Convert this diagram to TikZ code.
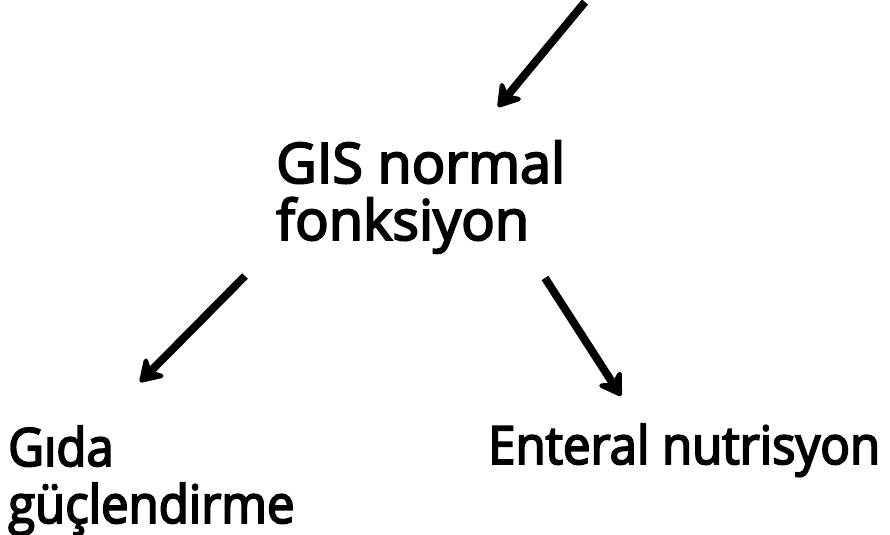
\documentclass[tikz,border=0pt]{standalone}
\usepackage{fontspec}
\setmainfont{Open Sans}[FakeStretch=0.93,RawFeature={embolden=3.5}]
\newfontfamily\topfont{Open Sans}[RawFeature={embolden=3.5}]
\usetikzlibrary{arrows.meta}
\begin{document}
\begin{tikzpicture}[x=1bp,y=-1bp,
  lbl/.style={anchor=base west,inner sep=0pt,font=\fontsize{53}{57}\selectfont,align=left},
  toplbl/.style={anchor=base west,inner sep=0pt,font=\topfont\fontsize{56}{57}\selectfont,align=left},
  arr/.style={line width=8bp,-{Stealth[round,length=27bp,width=34bp,inset=9bp]}}]
\useasboundingbox (0,0) rectangle (890,535);
\node[toplbl] (gis) at (276,183) {GIS normal};
\node[toplbl] (fonk) at (276,240) {fonksiyon};
\node[lbl] (gida) at (8,466) {Gıda};
\node[lbl] (guc) at (8,523) {güçlendirme};
\node[lbl] (ent) at (488,464) {Enteral nutrisyon};
\coordinate (top) at (585,2);
\coordinate (topend) at (498,107);
\coordinate (l1) at (245,276);
\coordinate (l2) at (140,382);
\coordinate (r1) at (545,278);
\coordinate (r2) at (621,396);
\draw[arr] (top) -- (topend);
\draw[arr] (l1) -- (l2);
\draw[arr] (r1) -- (r2);
\end{tikzpicture}
\end{document}
